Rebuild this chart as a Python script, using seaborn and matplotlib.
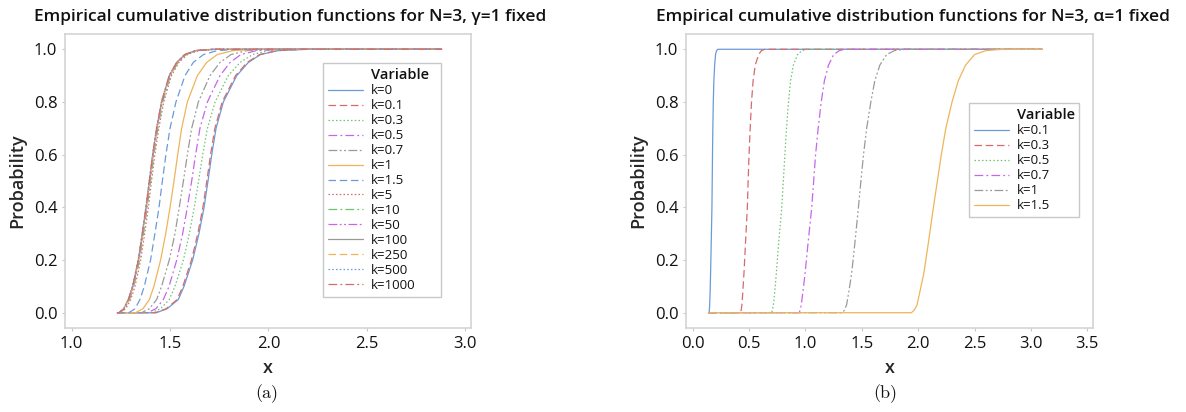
import matplotlib
matplotlib.use("Agg")
import pandas as pd
import matplotlib.pyplot as plt
import seaborn as sns
from matplotlib.lines import Line2D
from matplotlib.ticker import FormatStrFormatter

# =====================================================
# data (x value at each probability level)
# =====================================================

# --- panel (a): N=3, gamma=1 fixed ---
title_a = "Empirical cumulative distribution functions for N=3, γ=1 fixed"
labels_a = ["k=0", "k=0.1", "k=0.3", "k=0.5", "k=0.7", "k=1", "k=1.5",
            "k=5", "k=10", "k=50", "k=100", "k=250", "k=500", "k=1000"]
prob_a = [0, 0.015, 0.05, 0.1, 0.2, 0.3, 0.4, 0.5, 0.6, 0.7, 0.8, 0.9, 0.95, 0.98, 0.995, 1.0]
x_first_a = 1.232
x_last_a = 2.881

xa_k0 = [1.430, 1.485, 1.542, 1.571, 1.615, 1.647, 1.673, 1.693, 1.712, 1.734, 1.771, 1.839, 1.898, 1.960, 2.050, 2.200]
xa_k01 = [1.425, 1.480, 1.536, 1.565, 1.609, 1.641, 1.667, 1.687, 1.706, 1.728, 1.765, 1.833, 1.892, 1.955, 2.045, 2.190]
xa_k03 = [1.405, 1.452, 1.496, 1.525, 1.568, 1.598, 1.623, 1.645, 1.666, 1.690, 1.729, 1.796, 1.856, 1.920, 2.000, 2.140]
xa_k05 = [1.385, 1.428, 1.466, 1.495, 1.534, 1.564, 1.588, 1.610, 1.630, 1.652, 1.690, 1.754, 1.805, 1.860, 1.940, 2.080]
xa_k07 = [1.355, 1.395, 1.432, 1.457, 1.496, 1.525, 1.547, 1.568, 1.588, 1.610, 1.644, 1.703, 1.754, 1.810, 1.890, 2.020]
xa_k1 = [1.325, 1.362, 1.395, 1.418, 1.452, 1.478, 1.500, 1.520, 1.539, 1.559, 1.588, 1.639, 1.686, 1.740, 1.820, 1.950]
xa_k15 = [1.290, 1.322, 1.347, 1.369, 1.401, 1.423, 1.444, 1.461, 1.479, 1.500, 1.530, 1.576, 1.618, 1.670, 1.740, 1.850]
xa_k5 = [1.246, 1.275, 1.300, 1.322, 1.351, 1.371, 1.390, 1.406, 1.423, 1.443, 1.468, 1.507, 1.545, 1.588, 1.645, 1.740]
xa_k10 = [1.243, 1.270, 1.294, 1.316, 1.345, 1.365, 1.384, 1.401, 1.418, 1.438, 1.463, 1.502, 1.540, 1.582, 1.638, 1.730]
xa_k50 = [1.241, 1.267, 1.290, 1.312, 1.341, 1.361, 1.380, 1.397, 1.414, 1.434, 1.459, 1.498, 1.536, 1.577, 1.633, 1.725]
xa_k100 = [1.240, 1.265, 1.288, 1.310, 1.339, 1.359, 1.378, 1.395, 1.412, 1.432, 1.457, 1.496, 1.534, 1.575, 1.630, 1.720]
xa_k250 = [1.240, 1.266, 1.289, 1.311, 1.340, 1.360, 1.379, 1.396, 1.413, 1.433, 1.458, 1.497, 1.535, 1.576, 1.632, 1.720]
xa_k500 = [1.239, 1.264, 1.287, 1.309, 1.338, 1.358, 1.377, 1.394, 1.411, 1.431, 1.456, 1.495, 1.533, 1.574, 1.629, 1.715]
xa_k1000 = [1.240, 1.265, 1.288, 1.310, 1.339, 1.359, 1.378, 1.395, 1.412, 1.432, 1.457, 1.496, 1.534, 1.575, 1.631, 1.718]
curves_a = [xa_k0, xa_k01, xa_k03, xa_k05, xa_k07, xa_k1, xa_k15,
            xa_k5, xa_k10, xa_k50, xa_k100, xa_k250, xa_k500, xa_k1000]
xticks_a = [1.0, 1.5, 2.0, 2.5, 3.0]

# --- panel (b): N=3, alpha=1 fixed ---
title_b = "Empirical cumulative distribution functions for N=3, α=1 fixed"
labels_b = ["k=0.1", "k=0.3", "k=0.5", "k=0.7", "k=1", "k=1.5"]
prob_b = [0, 0.01, 0.03, 0.08, 0.15, 0.25, 0.4, 0.5, 0.6, 0.7, 0.8, 0.88, 0.94, 0.98, 0.995, 1.0]
x_first_b = 0.14
x_last_b = 3.10

xb_k01 = [0.146, 0.148, 0.151, 0.155, 0.159, 0.164, 0.171, 0.1735, 0.176, 0.179, 0.183, 0.188, 0.195, 0.203, 0.212, 0.225]
xb_k03 = [0.425, 0.430, 0.437, 0.445, 0.455, 0.467, 0.485, 0.492, 0.500, 0.510, 0.522, 0.536, 0.555, 0.585, 0.610, 0.640]
xb_k05 = [0.700, 0.707, 0.716, 0.728, 0.742, 0.760, 0.790, 0.804, 0.818, 0.832, 0.850, 0.868, 0.893, 0.930, 0.970, 1.020]
xb_k07 = [0.945, 0.953, 0.963, 0.978, 0.997, 1.020, 1.056, 1.073, 1.090, 1.113, 1.140, 1.168, 1.205, 1.250, 1.300, 1.350]
xb_k1 = [1.330, 1.345, 1.365, 1.385, 1.410, 1.435, 1.470, 1.492, 1.515, 1.543, 1.580, 1.615, 1.660, 1.720, 1.790, 1.880]
xb_k15 = [1.940, 1.965, 1.990, 2.015, 2.050, 2.085, 2.135, 2.170, 2.205, 2.245, 2.300, 2.355, 2.420, 2.500, 2.600, 2.750]
curves_b = [xb_k01, xb_k03, xb_k05, xb_k07, xb_k1, xb_k15]
xticks_b = [0.0, 0.5, 1.0, 1.5, 2.0, 2.5, 3.0, 3.5]

yticks = [0.0, 0.2, 0.4, 0.6, 0.8, 1.0]

# minitab-like cycle: 6 colours, 5 line styles
colors = ["#6A9BD8", "#D66B6B", "#6FC26F", "#C766E8", "#9A9A9A", "#EDB55A"]
dash_styles = ["", (6, 3), (1.2, 1.8), (7, 2.5, 1.5, 2.5), (7, 2, 1.5, 2, 1.5, 2)]


def make_frame(labels, curves, prob, x_first, x_last):
    parts = []
    for lab, xs in zip(labels, curves):
        parts.append(pd.DataFrame({
            "x": [x_first] + list(xs) + [x_last],
            "Probability": [0.0] + list(prob) + [1.0],
            "Variable": lab,
        }))
    return pd.concat(parts, ignore_index=True)


df_a = make_frame(labels_a, curves_a, prob_a, x_first_a, x_last_a)
df_b = make_frame(labels_b, curves_b, prob_b, x_first_b, x_last_b)

# =====================================================
# style
# =====================================================
sns.set_theme(style="white")
plt.rcParams["font.family"] = ["Open Sans", "DejaVu Sans"]
plt.rcParams["text.color"] = "#111111"

W, H = 1186, 412
fig = plt.figure(figsize=(W / 100, H / 100), dpi=100)
ax_a = fig.add_axes([65 / W, 1 - 328 / H, (471 - 65) / W, (328 - 34) / H])
ax_b = fig.add_axes([686 / W, 1 - 328 / H, (1093 - 686) / W, (328 - 34) / H])


def draw_panel(ax, df, labels, xlim, xticks, legend_box):
    palette = {lab: colors[i % 6] for i, lab in enumerate(labels)}
    dashes = {lab: dash_styles[i % 5] for i, lab in enumerate(labels)}
    sns.lineplot(data=df, x="x", y="Probability", hue="Variable", style="Variable",
                 hue_order=labels, style_order=labels, palette=palette, dashes=dashes,
                 estimator=None, sort=False, lw=0.9, legend=False, ax=ax)

    ax.set_xlim(*xlim)
    ax.set_ylim(-0.058, 1.058)
    ax.set_xticks(xticks)
    ax.set_yticks(yticks)
    ax.xaxis.set_major_formatter(FormatStrFormatter("%.1f"))
    ax.yaxis.set_major_formatter(FormatStrFormatter("%.1f"))
    ax.tick_params(axis="both", which="major", direction="out", length=2.5, width=0.8,
                   color="#C8C8C8", pad=3, labelsize=12, labelcolor="#111111",
                   bottom=True, left=True)
    for sp in ax.spines.values():
        sp.set_color("#D4D4D4")
        sp.set_linewidth(1.2)

    ax.set_xlabel("x", fontsize=13, fontweight="semibold")
    ax.set_ylabel("Probability", fontsize=13, fontweight="semibold")
    ax.xaxis.set_label_coords(0.5, -0.105)
    ax.yaxis.set_label_coords(-0.095, 0.5)

    # legend, with "Variable" as a heading row aligned on the labels
    handles = [Line2D([], [], color="none")]
    names = ["Variable"]
    for lab in labels:
        d = dashes[lab]
        ls = "-" if d == "" else (0, d)
        handles.append(Line2D([], [], color=palette[lab], lw=0.9, linestyle=ls))
        names.append(lab)
    lx, ltop, lw = legend_box
    leg = ax.legend(handles, names, loc="upper left",
                    bbox_to_anchor=(lx / W, 1 - ltop / H - 0.3, lw / W, 0.3),
                    bbox_transform=fig.transFigure, mode="expand", borderaxespad=0,
                    fontsize=9.5, labelspacing=0.15, handlelength=2.65,
                    handletextpad=0.6, borderpad=0.4, frameon=True, fancybox=False,
                    framealpha=1)
    leg.get_frame().set_edgecolor("#C8C8C8")
    leg.get_frame().set_linewidth(1.0)
    leg.get_texts()[0].set_fontweight("semibold")
    leg.get_texts()[0].set_fontsize(10.5)


draw_panel(ax_a, df_a, labels_a, (0.966, 3.03), xticks_a, (323, 63, 118))
draw_panel(ax_b, df_b, labels_b, (-0.059, 3.55), xticks_b, (969, 103, 110))

fig.text(290 / W, 1 - 17 / H, title_a, ha="center", va="center",
         fontsize=12.5, fontweight="semibold")
fig.text(913 / W, 1 - 17 / H, title_b, ha="center", va="center",
         fontsize=12.5, fontweight="semibold")

fig.text(267 / W, 1 - 394 / H, "(a)", ha="center", va="center",
         fontsize=13, family="cmr10")
fig.text(885 / W, 1 - 394 / H, "(b)", ha="center", va="center",
         fontsize=13, family="cmr10")

plt.savefig("out.png", dpi=100, facecolor="white")
